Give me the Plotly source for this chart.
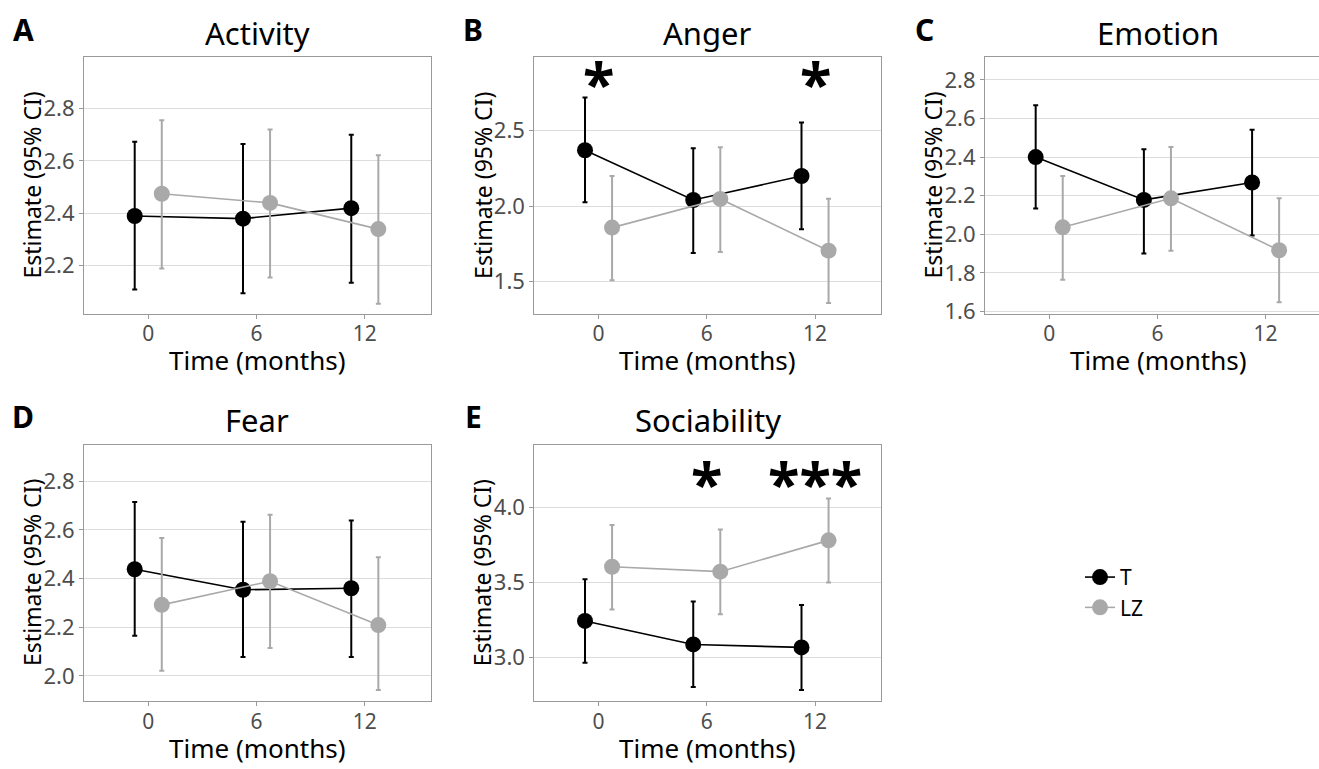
import plotly.graph_objects as go

W, H = 1319, 769
FONT = "Noto Sans"

times = [0, 6, 12]
groups = ["T", "LZ"]
panel_letters = ["A", "B", "C", "D", "E"]
panel_titles = ["Activity", "Anger", "Emotion", "Fear", "Sociability"]

# estimates and 95% CI (lower, upper) per panel and group
activity_T_est = [2.39, 2.38, 2.42]
activity_T_lo = [2.11, 2.095, 2.135]
activity_T_hi = [2.673, 2.665, 2.70]
activity_LZ_est = [2.475, 2.44, 2.34]
activity_LZ_lo = [2.19, 2.155, 2.055]
activity_LZ_hi = [2.755, 2.72, 2.622]

anger_T_est = [2.371, 2.041, 2.20]
anger_T_lo = [2.026, 1.69, 1.848]
anger_T_hi = [2.72, 2.385, 2.555]
anger_LZ_est = [1.858, 2.048, 1.705]
anger_LZ_lo = [1.509, 1.697, 1.359]
anger_LZ_hi = [2.20, 2.39, 2.05]

emotion_T_est = [2.40, 2.178, 2.268]
emotion_T_lo = [2.134, 1.90, 1.993]
emotion_T_hi = [2.669, 2.441, 2.542]
emotion_LZ_est = [2.036, 2.186, 1.917]
emotion_LZ_lo = [1.764, 1.914, 1.647]
emotion_LZ_hi = [2.302, 2.452, 2.186]

fear_T_est = [2.438, 2.354, 2.36]
fear_T_lo = [2.165, 2.078, 2.078]
fear_T_hi = [2.714, 2.633, 2.638]
fear_LZ_est = [2.292, 2.389, 2.209]
fear_LZ_lo = [2.021, 2.115, 1.942]
fear_LZ_hi = [2.566, 2.662, 2.487]

soc_T_est = [3.241, 3.084, 3.064]
soc_T_lo = [2.961, 2.80, 2.78]
soc_T_hi = [3.52, 3.371, 3.347]
soc_LZ_est = [3.603, 3.57, 3.779]
soc_LZ_lo = [3.318, 3.286, 3.498]
soc_LZ_hi = [3.882, 3.851, 4.059]

panels_data = [
    [(activity_T_est, activity_T_lo, activity_T_hi), (activity_LZ_est, activity_LZ_lo, activity_LZ_hi)],
    [(anger_T_est, anger_T_lo, anger_T_hi), (anger_LZ_est, anger_LZ_lo, anger_LZ_hi)],
    [(emotion_T_est, emotion_T_lo, emotion_T_hi), (emotion_LZ_est, emotion_LZ_lo, emotion_LZ_hi)],
    [(fear_T_est, fear_T_lo, fear_T_hi), (fear_LZ_est, fear_LZ_lo, fear_LZ_hi)],
    [(soc_T_est, soc_T_lo, soc_T_hi), (soc_LZ_est, soc_LZ_lo, soc_LZ_hi)],
]

y_ticks = [
    [2.2, 2.4, 2.6, 2.8],
    [1.5, 2.0, 2.5],
    [1.6, 1.8, 2.0, 2.2, 2.4, 2.6, 2.8],
    [2.0, 2.2, 2.4, 2.6, 2.8],
    [3.0, 3.5, 4.0],
]
y_ranges = [
    [2.017, 2.995],
    [1.287, 2.986],
    [1.588, 2.916],
    [1.896, 2.95],
    [2.704, 4.419],
]

# significance markers
sig_panel = [1, 1, 4, 4]
sig_time = [0, 12, 6, 12]
sig_label = ["*", "*", "*", "***"]
sig_y = [2.90, 2.90, 4.245, 4.245]

colors = {"T": "#000000", "LZ": "#a9a9a9"}
dodge = {"T": -0.75, "LZ": 0.75}

# panel pixel boxes (left, right, top, bottom)
boxes = [
    (84, 430.5, 58.3, 318.3),
    (534.3, 880.7, 58.3, 318.3),
    (985, 1319, 58.3, 318.3),
    (84, 430.5, 451, 711.5),
    (534.3, 880.7, 451, 711.5),
]
x_ranges = [
    [-3.56, 15.64],
    [-3.56, 15.64],
    [-3.56, 14.96],
    [-3.56, 15.64],
    [-3.56, 15.64],
]

fig = go.Figure()
layout = {}
annotations = []

for i in range(5):
    l, r, t, b = boxes[i]
    xa = "xaxis" if i == 0 else f"xaxis{i+1}"
    ya = "yaxis" if i == 0 else f"yaxis{i+1}"
    xr = "x" if i == 0 else f"x{i+1}"
    yr = "y" if i == 0 else f"y{i+1}"
    layout[xa] = dict(
        domain=[l / W, r / W], anchor=yr, range=x_ranges[i],
        tickvals=times, ticktext=[str(v) for v in times],
        showgrid=False, zeroline=False,
        showline=True, linecolor="#9a9a9a", linewidth=1, mirror=True,
        ticks="outside", ticklen=4, tickcolor="#9a9a9a", tickwidth=1,
        ticklabelstandoff=-3,
        tickfont=dict(family=FONT, size=21, color="#4d4d4d"),
    )
    layout[ya] = dict(
        domain=[1 - b / H, 1 - t / H], anchor=xr, range=y_ranges[i],
        tickvals=y_ticks[i], tickformat=".1f",
        showgrid=True, gridcolor="#dcdcdc", gridwidth=1, zeroline=False,
        showline=True, linecolor="#9a9a9a", linewidth=1, mirror=(i != 2),
        ticks="outside", ticklen=4, tickcolor="#9a9a9a", tickwidth=1,
        tickfont=dict(family=FONT, size=22, color="#4d4d4d"),
    )

    for g_idx, g in enumerate(groups):
        est, lo, hi = panels_data[i][g_idx]
        xs = [tt + dodge[g] for tt in times]
        fig.add_trace(go.Scatter(
            x=xs, y=est, xaxis=xr, yaxis=yr, name=g,
            mode="lines+markers",
            line=dict(color=colors[g], width=1.6),
            marker=dict(color=colors[g], size=16),
            error_y=dict(type="data", symmetric=False,
                         array=[h - e for h, e in zip(hi, est)],
                         arrayminus=[e - lo_ for e, lo_ in zip(est, lo)],
                         color=colors[g], thickness=2, width=2.5),
            showlegend=(i == 0), legendgroup=g,
        ))

    cx = (l + (l + 346.5)) / 2
    annotations.append(dict(
        text=panel_titles[i], x=cx / W, y=1 - (t - 25) / H, xref="paper", yref="paper",
        showarrow=False, xanchor="center", yanchor="middle",
        font=dict(family=FONT, size=31, color="#000000"),
    ))
    annotations.append(dict(
        text="<b>" + panel_letters[i] + "</b>", x=(l - 61) / W, y=1 - (t - 28) / H,
        xref="paper", yref="paper", showarrow=False, xanchor="center", yanchor="middle",
        font=dict(family=FONT, size=30, color="#000000"),
    ))
    annotations.append(dict(
        text="Time (months)", x=cx / W, y=1 - (b + 47) / H, xref="paper", yref="paper",
        showarrow=False, xanchor="center", yanchor="middle",
        font=dict(family=FONT, size=26, color="#000000"),
    ))
    annotations.append(dict(
        text="Estimate (95% CI)", x=(l - 52) / W, y=1 - ((t + b) / 2) / H,
        xref="paper", yref="paper", showarrow=False, textangle=-90,
        xanchor="center", yanchor="middle",
        font=dict(family=FONT, size=23, color="#000000"),
    ))

for p, tt, lab, yy in zip(sig_panel, sig_time, sig_label, sig_y):
    xr = "x" if p == 0 else f"x{p+1}"
    yr = "y" if p == 0 else f"y{p+1}"
    annotations.append(dict(
        text="<b>" + lab + "</b>", x=tt, y=yy, xref=xr, yref=yr, showarrow=False,
        xanchor="center", yanchor="middle", yshift=-12,
        font=dict(family=FONT, size=58, color="#000000"),
    ))

fig.update_layout(
    **layout,
    width=W, height=H,
    margin=dict(l=0, r=0, t=0, b=0),
    paper_bgcolor="white", plot_bgcolor="white",
    annotations=annotations,
    showlegend=True,
    legend=dict(x=1080 / W, y=1 - 565 / H, xanchor="left", yanchor="top",
                font=dict(family=FONT, size=21, color="#000000"),
                bgcolor="rgba(0,0,0,0)", tracegroupgap=0, itemwidth=30),
)

fig.write_html("out.html", config={"displayModeBar": False},
               post_script="document.body.style.margin='0px';document.body.style.padding='0px';")
